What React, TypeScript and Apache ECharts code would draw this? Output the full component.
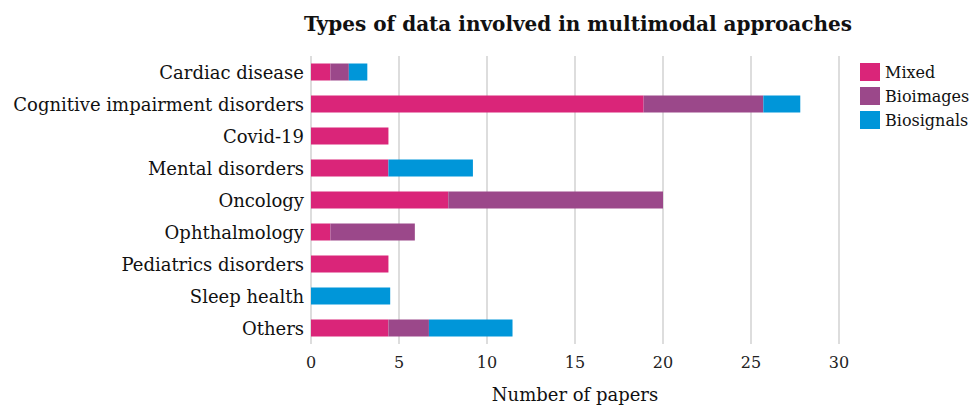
import React, { useEffect, useRef } from "react";
import * as echarts from "echarts";

const categories = [
  "Cardiac disease",
  "Cognitive impairment disorders",
  "Covid-19",
  "Mental disorders",
  "Oncology",
  "Ophthalmology",
  "Pediatrics disorders",
  "Sleep health",
  "Others",
];
const mixed = [1.1, 18.9, 4.4, 4.4, 7.8, 1.1, 4.4, 0, 4.4];
const bioimages = [1.05, 6.8, 0, 0, 12.2, 4.8, 0, 0, 2.3];
const biosignals = [1.05, 2.1, 0, 4.8, 0, 0, 0, 4.5, 4.75];
const xTicks = [0, 5, 10, 15, 20, 25, 30];

const FONT = "DejaVu Serif";

export default function App() {
  const ref = useRef<HTMLDivElement>(null);
  useEffect(() => {
    document.body.style.margin = "0";
    if (!ref.current) return;
    const chart = echarts.init(ref.current, null, { renderer: "svg" });
    const mk = (name: string, data: number[], color: string) => ({
      name,
      type: "bar",
      stack: "total",
      data: data.map((v) => (v === 0 ? null : v)),
      barWidth: 17,
      itemStyle: { color },
    });
    chart.setOption({
      animation: false,
      textStyle: { fontFamily: FONT },
      title: {
        text: "Types of data involved in multimodal approaches",
        left: 573,
        top: 9,
        textAlign: "center",
        textStyle: { fontFamily: FONT, fontSize: 20, fontWeight: "bold", color: "#111" },
      },
      legend: {
        orient: "vertical",
        left: 855,
        top: 58,
        itemWidth: 20,
        itemHeight: 18,
        itemGap: 6,
        icon: "rect",
        textStyle: { fontFamily: FONT, fontSize: 16, color: "#111" },
      },
      grid: { left: 311, right: 134, top: 56, bottom: 58, containLabel: false },
      xAxis: {
        type: "value",
        min: xTicks[0],
        max: xTicks[xTicks.length - 1],
        interval: 5,
        name: "Number of papers",
        nameLocation: "middle",
        nameGap: 41,
        nameTextStyle: { fontFamily: FONT, fontSize: 18, color: "#111" },
        axisLine: { show: false },
        axisTick: { show: false },
        axisLabel: { fontFamily: FONT, fontSize: 16, color: "#222", margin: 10 },
        splitLine: { show: true, lineStyle: { color: "#dddddd", width: 2 } },
      },
      yAxis: {
        type: "category",
        data: categories,
        inverse: true,
        axisLine: { show: false },
        axisTick: { show: false },
        axisLabel: { fontFamily: FONT, fontSize: 18, color: "#111", margin: 7 },
      },
      series: [
        mk("Mixed", mixed, "#DA2579"),
        mk("Bioimages", bioimages, "#9B488A"),
        mk("Biosignals", biosignals, "#0096D9"),
      ],
    });
    return () => chart.dispose();
  }, []);
  return <div ref={ref} style={{ width: 973, height: 408 }} />;
}
